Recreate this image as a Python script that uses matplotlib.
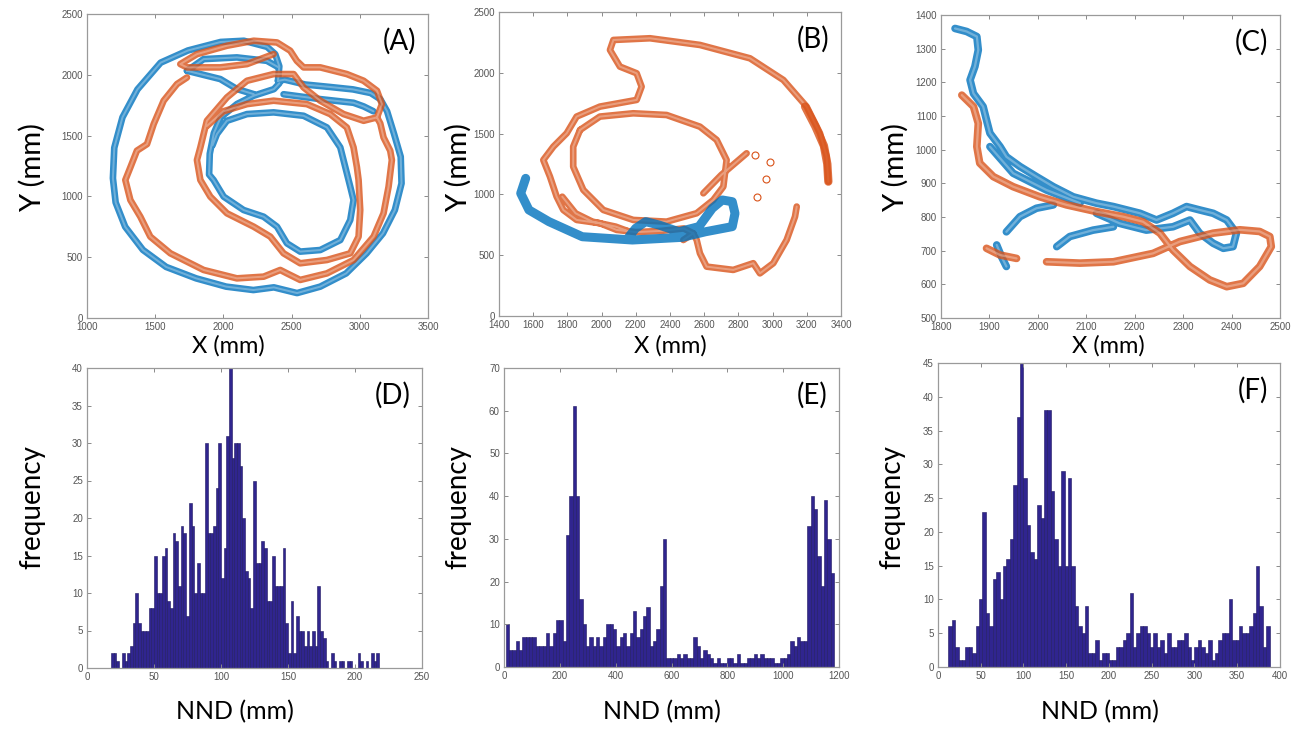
import numpy as np
import matplotlib.pyplot as plt

nan = np.nan
BLUE = "#0072BD"
ORANGE = "#D95319"
BAR = "#30258f"

# ---- (A) trajectories, mm ----
a_blue_x = [2400, 2410, 2380, 2320, 2150, 1980, 1740, 1540, 1370, 1260, 1200, 1190, 1210, 1280, 1410, 1580,
            1800, 2020, 2220, 2370, 2540, 2710, 2900, 3050, 3170, 3257, 3306, 3300, 3250, 3200, 3150, 3080,
            2950, 2780, 2600, 2450, 2400, nan,
            1733, 1855, 2099, 2319, 2405, nan,
            1733, 1977, 2099, 2222, nan,
            2410, 2370, 2222, 2100, 1980, 1930, 1900, 1895, 1928, 2002, 2148, 2295, 2393, 2466, 2563, 2710,
            2857, 2930, 2954, 2930, 2893, 2857, 2759, 2588, 2368, 2173, 2026, 1953, 1920, nan,
            2441, 2710, 2954, 3028, 3100]
a_blue_y = [1950, 2070, 2170, 2230, 2280, 2270, 2200, 2100, 1880, 1650, 1400, 1150, 950, 750, 560, 420,
            326, 258, 230, 252, 205, 258, 367, 532, 696, 888, 1107, 1326, 1518, 1700, 1800, 1850,
            1880, 1900, 1920, 1960, 1950, nan,
            2033, 2129, 2143, 2115, 2061, nan,
            2033, 1965, 1883, 1841, nan,
            1930, 1882, 1828, 1760, 1650, 1520, 1350, 1180, 1135, 998, 888, 833, 751, 614, 546, 559,
            641, 806, 970, 1080, 1244, 1403, 1567, 1663, 1691, 1677, 1622, 1513, 1420, nan,
            1840, 1800, 1770, 1740, 1700]
a_orange_x = [1880, 2000, 2173, 2368, 2612, 2783, 2905, 2954, 2979, 2991, 3003, 2991, 2930, 2759, 2563, 2441,
              2344, 2222, 2026, 1904, 1831, 1806, 1831, 1879, 2026, 2173, 2368, 2515, 2588, 2710, 2881, 3028,
              3126, 3162, 3126, 3028, 2905, 2710, 2588, 2538, 2490, 2393, 2222, 2026, 1806, 1684, 1733, 1977,
              2173, 2368, nan,
              1733, 1660, 1562, 1489, 1440, 1366, 1318, 1281, 1318, 1391, 1464, 1611, 1855, 2099, 2295, 2417,
              2466, 2563, 2759, 2954, 3101, 3174, 3211, 3235, 3223, 3174, 3150, 3126]
a_orange_y = [1580, 1700, 1759, 1787, 1759, 1677, 1567, 1403, 1239, 1135, 888, 669, 532, 477, 450, 532,
              669, 751, 861, 998, 1135, 1299, 1403, 1622, 1814, 1951, 2006, 2006, 1896, 1787, 1677, 1622,
              1650, 1759, 1869, 1951, 2006, 2061, 2061, 2115, 2198, 2266, 2280, 2239, 2170, 2088, 2061, 2061,
              2088, 2170, nan,
              1978, 1924, 1787, 1595, 1430, 1376, 1239, 1135, 970, 833, 669, 532, 395, 326, 340, 395,
              367, 313, 367, 477, 669, 861, 1080, 1299, 1376, 1485, 1600, 1650]

# ---- (B) trajectories, mm ----
b_blue_x = [1556, 1527, 1575, 1692, 1887, 2180, 2472, 2608, 2764, 2780, 2764, 2706, 2647, 2569, 2452, 2336,
            2258, 2199, 2160]
b_blue_y = [1132, 1009, 872, 776, 652, 625, 647, 693, 735, 844, 940, 954, 885, 735, 693, 748,
            776, 721, 652]
b_orange_x = [3326, 3316, 3277, 3199, 3063, 2868, 2575, 2283, 2069, 2049, 2107, 2205, 2234, 2205, 1990, 1854,
              1796, 1718, 1659, 1698, 1737, 1776, 1854, 1990, 2088, 2200, 2350, 2480, 2536, nan,
              1874, 1990, 2185, 2380, 2575, 2673, 2731, 2712, 2653, 2556, 2380, 2185, 2010, 1893, 1834, 1834,
              1874, nan,
              1770, 1848, 1946, 2082, 2150, nan,
              2478, 2536, 2556, 2575, 2614, 2770, 2887, 2926, 3004, 3082, 3131, 3141, nan,
              2595, 2700, 2848]
b_orange_y = [1105, 1311, 1503, 1722, 1941, 2119, 2229, 2284, 2270, 2188, 2051, 1996, 1886, 1777, 1722, 1640,
              1503, 1393, 1283, 1146, 982, 872, 790, 763, 708, 690, 700, 720, 680, nan,
              1530, 1640, 1667, 1653, 1557, 1448, 1283, 1064, 954, 845, 776, 790, 872, 1037, 1228, 1393,
              1530, nan,
              981, 844, 776, 735, 700, nan,
              625, 680, 625, 516, 406, 379, 434, 351, 434, 625, 817, 900, nan,
              1009, 1160, 1338]
# dense stretch on the right of the big arc
b_dense_x = [3190, 3250, 3300, 3320, 3326]
b_dense_y = [1722, 1560, 1400, 1250, 1105]
b_stray_x = [2897, 2985, 2959, 2906]
b_stray_y = [1324, 1264, 1127, 982]

# ---- (C) trajectories, mm ----
c_blue_x = [1829, 1853, 1874, 1877, 1870, 1860, 1867, 1887, 1894, 1901, 1922, 1935, 1963, 1997, 2032, 2073,
            2121, 2156, 2211, 2245, 2279, 2307, 2334, 2362, 2390, 2410, 2403, 2383, 2362, 2334, 2314, 2279,
            2224, 2169, 2121, nan,
            1901, 1949, 2018, 2087, nan,
            1935, 1963, 1997, 2032, nan,
            2039, 2066, 2114, 2156, nan,
            1915, 1925, 1935]
c_blue_y = [1360, 1351, 1336, 1296, 1247, 1207, 1167, 1128, 1088, 1049, 1009, 979, 950, 920, 890, 860,
            841, 831, 811, 791, 811, 831, 821, 811, 791, 752, 712, 707, 722, 752, 791, 771,
            761, 781, 811, nan,
            1009, 930, 880, 841, nan,
            756, 801, 826, 836, nan,
            712, 742, 761, 771, nan,
            717, 682, 653]
c_orange_x = [1843, 1867, 1877, 1874, 1880, 1908, 1949, 2004, 2059, 2121, 2176, 2217, 2252, 2279, 2314, 2355,
              2390, 2424, 2458, 2482, 2479, 2458, 2417, 2362, 2293, 2238, 2156, 2087, 2018, nan,
              1894, 1922, 1956]
c_orange_y = [1162, 1128, 1078, 1009, 960, 920, 890, 860, 836, 816, 801, 786, 752, 702, 653, 613,
              593, 603, 653, 712, 742, 757, 762, 752, 727, 692, 667, 663, 667, nan,
              707, 687, 677]

# ---- NND histograms ----
d_start, d_width = 18, 2
d_counts = [2, 2, 1, 0, 2, 1, 2, 3, 6, 10,
            6, 5, 5, 5, 8, 8, 15, 10, 10, 15,
            16, 9, 8, 18, 17, 11, 19, 18, 7, 22,
            19, 10, 14, 10, 10, 30, 18, 18, 19, 24,
            30, 12, 16, 31, 40, 28, 30, 30, 27, 20,
            13, 12, 8, 25, 14, 14, 17, 16, 9, 9,
            15, 11, 11, 11, 16, 6, 2, 9, 2, 7,
            5, 5, 3, 5, 3, 5, 3, 11, 5, 4,
            1, 0, 2, 1, 0, 1, 1, 0, 1, 1,
            0, 0, 2, 1, 0, 1, 0, 2, 1, 2]
e_start, e_width = 6, 12
e_counts = [10, 4, 4, 6, 4, 7, 7, 7, 7, 5,
            5, 5, 8, 5, 8, 11, 11, 6, 31, 40,
            61, 40, 16, 10, 5, 7, 5, 7, 5, 7,
            10, 10, 9, 5, 7, 8, 5, 8, 13, 7,
            9, 12, 14, 5, 6, 9, 19, 30, 2, 2,
            2, 3, 2, 3, 2, 2, 7, 5, 2, 4,
            3, 2, 1, 2, 1, 1, 2, 2, 1, 3,
            1, 1, 2, 2, 3, 2, 3, 2, 2, 2,
            1, 1, 2, 2, 3, 6, 5, 7, 6, 6,
            33, 40, 37, 26, 19, 39, 30, 22]
f_start, f_width = 12, 4
f_counts = [6, 7, 3, 1, 1, 3, 3, 2, 6, 10,
            23, 8, 6, 13, 14, 10, 15, 16, 19, 27,
            37, 45, 28, 21, 17, 16, 24, 22, 38, 38,
            26, 19, 15, 29, 15, 28, 15, 9, 6, 5,
            9, 2, 2, 4, 1, 2, 2, 1, 1, 3,
            3, 4, 5, 11, 3, 5, 6, 6, 5, 3,
            5, 3, 4, 2, 5, 3, 3, 4, 4, 5,
            3, 1, 3, 4, 3, 2, 4, 1, 2, 4,
            5, 5, 10, 4, 4, 6, 5, 5, 6, 8,
            15, 9, 3, 6]

LABEL_FONT = ["Lato", "DejaVu Sans"]
TICK_FONT = "Liberation Sans"


def style(ax, xlim, ylim, xticks, yticks):
    ax.set_xlim(*xlim)
    ax.set_ylim(*ylim)
    ax.set_xticks(xticks)
    ax.set_yticks(yticks)
    ax.tick_params(direction="in", top=True, right=True, length=3, width=0.7,
                   colors="#8a8a8a", labelcolor="#555555", labelsize=7, pad=3)
    for lab in ax.get_xticklabels() + ax.get_yticklabels():
        lab.set_family(TICK_FONT)
    for s in ax.spines.values():
        s.set_color("#9a9a9a")
        s.set_linewidth(0.9)


def track(ax, x, y, color, lw=4.8, hollow=True):
    # band of open markers -> thick translucent stroke with a faint light core
    ax.plot(x, y, color=color, lw=lw, alpha=0.8, solid_capstyle="round", solid_joinstyle="round")
    if hollow:
        ax.plot(x, y, color="white", lw=lw * 0.3, alpha=0.3, solid_capstyle="round",
                solid_joinstyle="round")


def hist(ax, start, width, counts):
    edges = start + width * np.arange(len(counts))
    ax.bar(edges, counts, width=width, align="edge", color=BAR, edgecolor="#1d1660", linewidth=0.4)


W, H = 1304, 732
fig = plt.figure(figsize=(W / 100, H / 100), dpi=100)


def axes_px(x0, y0, x1, y1):
    return fig.add_axes([x0 / W, 1 - y1 / H, (x1 - x0) / W, (y1 - y0) / H])


axA = axes_px(87, 14, 428, 318)
axB = axes_px(499, 12, 841, 316)
axC = axes_px(941, 15, 1280, 318)
axD = axes_px(87, 368, 422, 668)
axE = axes_px(504, 368, 839, 667)
axF = axes_px(938, 363, 1280, 667)

track(axA, a_blue_x, a_blue_y, BLUE)
track(axA, a_orange_x, a_orange_y, ORANGE)
style(axA, (1000, 3500), (0, 2500), range(1000, 3501, 500), range(0, 2501, 500))

track(axB, b_orange_x, b_orange_y, ORANGE)
track(axB, b_dense_x, b_dense_y, ORANGE, lw=6, hollow=False)
axB.plot(b_stray_x, b_stray_y, "o", mfc="none", mec=ORANGE, ms=5, mew=0.8)
track(axB, b_blue_x, b_blue_y, BLUE, lw=6.5, hollow=False)
style(axB, (1400, 3400), (0, 2500), range(1400, 3401, 200), range(0, 2501, 500))

track(axC, c_blue_x, c_blue_y, BLUE, lw=5.5)
track(axC, c_orange_x, c_orange_y, ORANGE, lw=5.5)
style(axC, (1800, 2500), (500, 1400), range(1800, 2501, 100), range(500, 1401, 100))

hist(axD, d_start, d_width, d_counts)
style(axD, (0, 250), (0, 40), range(0, 251, 50), range(0, 41, 5))
hist(axE, e_start, e_width, e_counts)
style(axE, (0, 1200), (0, 70), range(0, 1201, 200), range(0, 71, 10))
hist(axF, f_start, f_width, f_counts)
style(axF, (0, 400), (0, 45), range(0, 401, 50), range(0, 46, 5))

for ax, tag in zip([axA, axB, axC, axD, axE, axF], ["(A)", "(B)", "(C)", "(D)", "(E)", "(F)"]):
    ax.text(0.965, 0.955, tag, transform=ax.transAxes, ha="right", va="top",
            fontsize=20, family=LABEL_FONT, color="black")


def ftext(x, y, s, size, rot=0):
    fig.text(x / W, 1 - y / H, s, ha="center", va="center", fontsize=size,
             rotation=rot, family=LABEL_FONT, color="black")


for x in (228, 670, 1108):
    ftext(x, 346, "X (mm)", 17)
for x in (32, 458, 895):
    ftext(x, 167, "Y (mm)", 21, rot=90)
for x in (32, 458, 892):
    ftext(x, 507, "frequency", 20, rot=90)
for x in (235, 662, 1100):
    ftext(x, 712, "NND (mm)", 18)

fig.savefig("out.png", dpi=100)
